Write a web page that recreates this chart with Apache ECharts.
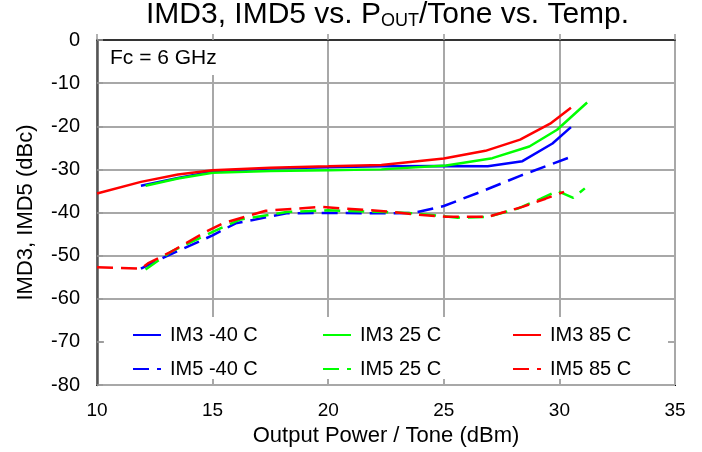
<!DOCTYPE html>
<html>
<head>
<meta charset="utf-8">
<script src="https://cdn.jsdelivr.net/npm/echarts@6/dist/echarts.min.js"></script>
<style>
html,body{margin:0;padding:0;background:#fff;}
#c{width:702px;height:452px;}
</style>
</head>
<body>
<div id="c"></div>
<script>
// ---- data (x = Output Power / Tone dBm, y = dBc) ----
const xTicks = [10, 15, 20, 25, 30, 35];
const yTicks = [0, -10, -20, -30, -40, -50, -60, -70, -80];

const im3_m40 = [[11.9,-33.8],[13.5,-32.0],[15.0,-30.5],[17.5,-29.8],[20.0,-29.5],[22.3,-29.3],[25.0,-29.2],[26.9,-29.3],[28.4,-28.1],[29.7,-24.0],[30.5,-20.2]];
const im3_25  = [[12.1,-33.8],[13.5,-32.1],[15.0,-30.8],[17.5,-30.4],[20.0,-30.2],[22.3,-30.0],[25.1,-29.1],[27.1,-27.4],[28.7,-24.7],[29.9,-20.8],[31.2,-14.5]];
const im3_85  = [[10.0,-35.6],[11.9,-32.9],[13.5,-31.2],[15.0,-30.2],[17.5,-29.6],[20.0,-29.3],[22.3,-29.0],[25.0,-27.5],[26.8,-25.7],[28.3,-23.1],[29.6,-19.4],[30.5,-15.7]];
const im5_m40 = [[11.9,-53.0],[12.9,-50.4],[15.0,-45.3],[16.0,-42.5],[18.2,-40.2],[20.0,-40.1],[22.4,-40.2],[23.7,-40.1],[25.0,-38.5],[26.6,-35.2],[28.3,-31.5],[30.5,-27.1]];
const im5_25  = [[12.1,-53.2],[13.2,-49.1],[15.0,-44.5],[16.2,-41.6],[18.2,-39.9],[20.0,-39.5],[22.4,-39.9],[23.7,-40.2],[25.6,-41.2],[26.9,-41.0],[28.2,-39.1],[29.2,-36.8],[29.9,-35.0],[30.6,-36.6],[31.1,-34.4]];
const im5_85  = [[10.0,-52.7],[11.9,-53.0],[12.2,-51.8],[13.2,-49.1],[14.7,-44.5],[15.5,-42.4],[17.3,-39.6],[19.7,-38.7],[22.4,-39.7],[23.7,-40.4],[25.1,-41.0],[26.9,-41.0],[28.4,-38.7],[29.4,-36.8],[30.2,-35.2]];

const names = ['IM3 -40 C','IM3 25 C','IM3 85 C','IM5 -40 C','IM5 25 C','IM5 85 C'];
const colors = ['#0000ff','#00ff00','#ff0000','#0000ff','#00ff00','#ff0000'];
const datasets = [im3_m40, im3_25, im3_85, im5_m40, im5_25, im5_85];

const FONT = '"Liberation Sans", Arial, sans-serif';
const chart = echarts.init(document.getElementById('c'), null, {renderer:'canvas'});

const series = datasets.map((d, i) => ({
  name: names[i],
  type: 'line',
  data: d,
  symbol: 'none',
  smooth: false,
  z: 5,
  lineStyle: { color: colors[i], width: 2.5, type: i < 3 ? 'solid' : [16, 8] },
  itemStyle: { color: colors[i] }
}));

function legendCol(left, items) {
  return {
    orient: 'vertical', left: left, top: 325, padding: 0,
    itemWidth: 28, itemHeight: 14, itemGap: 14,
    data: items,
    z: 10,
    itemStyle: { opacity: 0 },
    textStyle: { fontSize: 20, color: '#000', fontFamily: FONT, padding: [0,0,0,4] }
  };
}

chart.setOption({
  animation: false,
  backgroundColor: '#fff',
  title: [
    {
      text: '{a|IMD3, IMD5 vs. P}{b|OUT}{a|/Tone vs. Temp.}',
      left: 146, top: 0, padding: 0,
      textStyle: {
        fontWeight: 'normal',
        rich: {
          a: { fontSize: 30, color: '#000', fontFamily: FONT, fontWeight: 'normal' },
          b: { fontSize: 18, color: '#000', fontFamily: FONT, fontWeight: 'normal', verticalAlign: 'bottom' }
        }
      }
    },
    {
      text: 'Fc = 6 GHz', left: 99, top: 41,
      padding: [7, 4, 6, 11], backgroundColor: '#fff',
      textStyle: { fontSize: 21, fontWeight: 'normal', color: '#000', fontFamily: FONT }
    }
  ],
  grid: { left: 97, right: 27, top: 40, bottom: 67, show: true, borderColor: '#000', borderWidth: 2, backgroundColor: 'transparent' },
  graphic: [{
    type: 'rect', z: 3,
    shape: { x: 104, y: 317, width: 564, height: 62 },
    style: { fill: '#fff' }
  }],
  legend: [
    legendCol(132, ['IM3 -40 C', 'IM5 -40 C']),
    legendCol(322, ['IM3 25 C', 'IM5 25 C']),
    legendCol(512, ['IM3 85 C', 'IM5 85 C'])
  ],
  xAxis: {
    type: 'value', min: 10, max: 35, interval: 5,
    name: 'Output Power / Tone (dBm)', nameLocation: 'middle', nameGap: 38,
    nameTextStyle: { fontSize: 22, color: '#000', fontFamily: FONT },
    axisLine: { show: true, lineStyle: { color: '#333', width: 2 } },
    axisTick: { show: true, inside: true, length: 6, lineStyle: { color: '#999', width: 1.5 } },
    axisLabel: { fontSize: 19, color: '#000', fontFamily: FONT, margin: 16 },
    splitLine: { show: true, lineStyle: { color: '#a8a8a8', width: 2 } }
  },
  yAxis: {
    type: 'value', min: -80, max: 0, interval: 10,
    name: 'IMD3, IMD5 (dBc)', nameLocation: 'middle', nameGap: 60, nameRotate: 90,
    nameTextStyle: { fontSize: 22, color: '#000', fontFamily: FONT },
    axisLine: { show: true, lineStyle: { color: '#555', width: 2.5 } },
    axisTick: { show: true, inside: true, length: 6, lineStyle: { color: '#999', width: 1.5 } },
    axisLabel: { fontSize: 20, color: '#000', fontFamily: FONT, margin: 17 },
    splitLine: { show: true, lineStyle: { color: '#a8a8a8', width: 2 } }
  },
  series: series
});
</script>
</body>
</html>
